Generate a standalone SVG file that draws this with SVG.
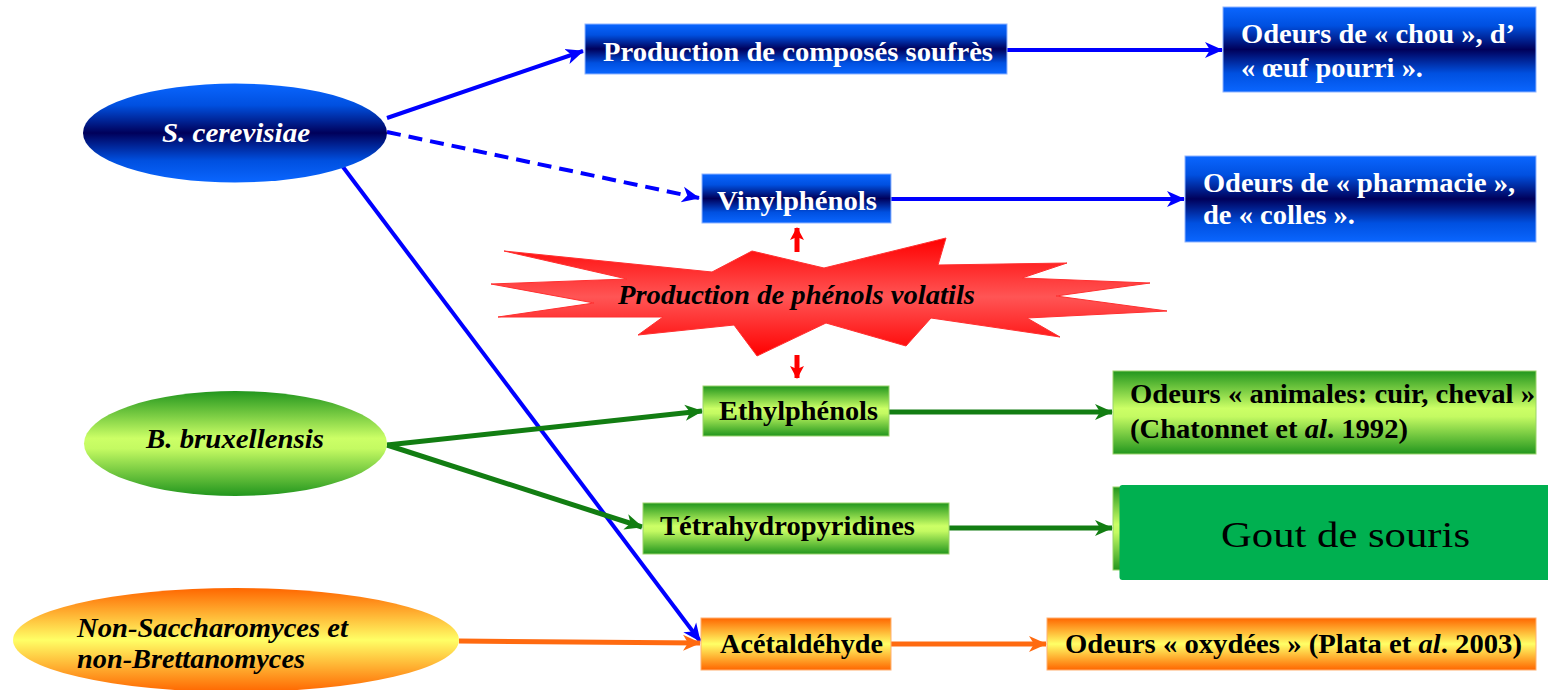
<svg xmlns="http://www.w3.org/2000/svg" width="1548" height="690" viewBox="0 0 1548 690">
<style>
.t{font-family:"Liberation Serif","Times New Roman",serif;font-weight:bold;font-size:27px}
.w{fill:#ffffff}
.k{fill:#000000}
.i{font-style:italic}
.bl{fill:none;stroke:#0000ff;stroke-width:4}
.gr{fill:none;stroke:#127d12;stroke-width:5}
.or{fill:none;stroke:#ff6a10;stroke-width:5}
.rd{fill:none;stroke:#ff0000;stroke-width:5}
.bb{fill:url(#gBlue);stroke:#8fb4ff;stroke-width:1}
.gb{fill:url(#gGreen);stroke:#9ad36a;stroke-width:1}
.ob{fill:url(#gOrange);stroke:#ffb070;stroke-width:1}
</style>
<defs>
<linearGradient id="gBlue" x1="0" y1="0" x2="0" y2="1">
<stop offset="0" stop-color="#0a66ff"/><stop offset="0.22" stop-color="#0050e0"/><stop offset="0.5" stop-color="#00005a"/><stop offset="0.78" stop-color="#0050e0"/><stop offset="1" stop-color="#0a66ff"/>
</linearGradient>
<linearGradient id="gGreen" x1="0" y1="0" x2="0" y2="1">
<stop offset="0" stop-color="#22961e"/><stop offset="0.45" stop-color="#ccff66"/><stop offset="0.55" stop-color="#c4fa62"/><stop offset="1" stop-color="#22961e"/>
</linearGradient>
<linearGradient id="gOrange" x1="0" y1="0" x2="0" y2="1">
<stop offset="0" stop-color="#ff6600"/><stop offset="0.5" stop-color="#ffff66"/><stop offset="1" stop-color="#ff6600"/>
</linearGradient>
<linearGradient id="gRed" x1="0" y1="0" x2="0" y2="1">
<stop offset="0" stop-color="#ff0000"/><stop offset="0.5" stop-color="#ff5555"/><stop offset="1" stop-color="#ff0000"/>
</linearGradient>
<marker id="aB" markerUnits="userSpaceOnUse" markerWidth="20" markerHeight="20" refX="17" refY="10" orient="auto"><path d="M0,2 L18,10 L0,18 L5,10 z" fill="#0000ff"/></marker>
<marker id="aG" markerUnits="userSpaceOnUse" markerWidth="20" markerHeight="20" refX="17" refY="10" orient="auto"><path d="M0,2 L18,10 L0,18 L5,10 z" fill="#127d12"/></marker>
<marker id="aO" markerUnits="userSpaceOnUse" markerWidth="20" markerHeight="20" refX="17" refY="10" orient="auto"><path d="M0,2 L18,10 L0,18 L5,10 z" fill="#ff6a10"/></marker>
<marker id="aR" markerUnits="userSpaceOnUse" markerWidth="14" markerHeight="14" refX="12" refY="7" orient="auto"><path d="M0,0 L13,7 L0,14 L3,7 z" fill="#ff0000"/></marker>
</defs>
<rect width="1548" height="690" fill="#ffffff"/>

<g id="connectors">
<line class="bl" x1="387" y1="118" x2="583" y2="51" marker-end="url(#aB)"/>
<line class="bl" x1="387" y1="132" x2="699" y2="198" stroke-dasharray="14 8" marker-end="url(#aB)"/>
<line class="bl" x1="343" y1="167" x2="700" y2="641" marker-end="url(#aB)"/>
<line class="bl" x1="1007" y1="50" x2="1222" y2="50" marker-end="url(#aB)"/>
<line class="bl" x1="891" y1="199" x2="1184" y2="199" marker-end="url(#aB)"/>
<line class="gr" x1="387" y1="445" x2="702" y2="411" marker-end="url(#aG)"/>
<line class="gr" x1="387" y1="445" x2="642" y2="527" marker-end="url(#aG)"/>
<line class="gr" x1="889" y1="412" x2="1112" y2="412" marker-end="url(#aG)"/>
<line class="gr" x1="949" y1="528" x2="1112" y2="528" marker-end="url(#aG)"/>
<line class="or" x1="459" y1="641" x2="700" y2="643" marker-end="url(#aO)"/>
<line class="or" x1="891" y1="644" x2="1046" y2="644" marker-end="url(#aO)"/>
<line class="rd" x1="797" y1="252" x2="797" y2="228" marker-end="url(#aR)"/>
<line class="rd" x1="797" y1="355" x2="797" y2="378" marker-end="url(#aR)"/>
</g>

<g id="n-scerevisiae">
<ellipse cx="235" cy="133" rx="152" ry="49.5" fill="url(#gBlue)"/>
<text class="t w i" x="162" y="142" font-size="29" textLength="148" lengthAdjust="spacingAndGlyphs">S. cerevisiae</text>
</g>
<g id="n-bruxellensis">
<ellipse cx="235.5" cy="443.5" rx="151.5" ry="52.5" fill="url(#gGreen)"/>
<text class="t k i" x="146" y="448" font-size="29" textLength="178" lengthAdjust="spacingAndGlyphs">B. bruxellensis</text>
</g>
<g id="n-nonsacch">
<ellipse cx="236" cy="640" rx="223" ry="52" fill="url(#gOrange)"/>
<text class="t k i" x="77" y="637" font-size="28" textLength="271" lengthAdjust="spacingAndGlyphs">Non-Saccharomyces et</text>
<text class="t k i" x="77" y="668" font-size="28" textLength="228" lengthAdjust="spacingAndGlyphs">non-Brettanomyces</text>
</g>

<g id="n-production">
<rect class="bb" x="585" y="24" width="422" height="50"/>
<text class="t w" x="603" y="61" font-size="29" textLength="390" lengthAdjust="spacingAndGlyphs">Production de composés soufrès</text>
</g>
<g id="n-chou">
<rect class="bb" x="1223" y="7" width="313" height="85"/>
<text class="t w" x="1241" y="43" font-size="28" textLength="274" lengthAdjust="spacingAndGlyphs">Odeurs de « chou », d’</text>
<text class="t w" x="1241" y="77" font-size="28" textLength="182" lengthAdjust="spacingAndGlyphs">« œuf pourri ».</text>
</g>
<g id="n-vinyl">
<rect class="bb" x="702" y="174" width="189" height="49"/>
<text class="t w" x="717" y="210" font-size="28" textLength="160" lengthAdjust="spacingAndGlyphs">Vinylphénols</text>
</g>
<g id="n-pharmacie">
<rect class="bb" x="1185" y="156" width="351" height="86"/>
<text class="t w" x="1203" y="192" font-size="28" textLength="312" lengthAdjust="spacingAndGlyphs">Odeurs de « pharmacie »,</text>
<text class="t w" x="1203" y="224" font-size="28" textLength="152" lengthAdjust="spacingAndGlyphs">de « colles ».</text>
</g>

<g id="n-star">
<polygon points="504,251 712,272 752,251 824,268 946,238 938,265 1067,263 1022,278 1150,283 1056,296 1167,311 1027,318 1060,337 931,318 906,346 826,323 757,356 734,325 638,335 663,317 498,317 594,303 491,284 627,279" fill="url(#gRed)" stroke="#ff3030" stroke-width="1"/>
<text class="t k i" x="618" y="304" font-size="27" textLength="357" lengthAdjust="spacingAndGlyphs">Production de phénols volatils</text>
</g>

<g id="n-ethyl">
<rect class="gb" x="703" y="386" width="186" height="50"/>
<text class="t k" x="719" y="420" font-size="28" textLength="159" lengthAdjust="spacingAndGlyphs">Ethylphénols</text>
</g>
<g id="n-animales">
<rect class="gb" x="1113" y="371" width="423" height="83"/>
<text class="t k" x="1130" y="403" font-size="28" textLength="405" lengthAdjust="spacingAndGlyphs">Odeurs « animales: cuir, cheval »</text>
<text class="t k" x="1130" y="438" font-size="28" textLength="278" lengthAdjust="spacingAndGlyphs">(Chatonnet et <tspan class="i">al</tspan>. 1992)</text>
</g>
<g id="n-tetra">
<rect class="gb" x="643" y="503" width="306" height="51"/>
<text class="t k" x="660" y="535" font-size="28" textLength="255" lengthAdjust="spacingAndGlyphs">Tétrahydropyridines</text>
</g>
<g id="n-gout">
<rect class="gb" x="1113" y="487" width="430" height="83"/>
<rect x="1119.5" y="485" width="440" height="95" rx="3" fill="#00b050"/>
<text x="1221" y="547" font-family="'Liberation Serif','Times New Roman',serif" font-size="35" fill="#000000" textLength="249" lengthAdjust="spacingAndGlyphs">Gout de souris</text>
</g>

<g id="n-acet">
<rect class="ob" x="701" y="618" width="190" height="52"/>
<text class="t k" x="720" y="653" font-size="28" textLength="163" lengthAdjust="spacingAndGlyphs">Acétaldéhyde</text>
</g>
<g id="n-oxydees">
<rect class="ob" x="1047" y="618" width="489" height="52"/>
<text class="t k" x="1065" y="653" font-size="28" textLength="457" lengthAdjust="spacingAndGlyphs">Odeurs « oxydées » (Plata et <tspan class="i">al</tspan>. 2003)</text>
</g>
</svg>
